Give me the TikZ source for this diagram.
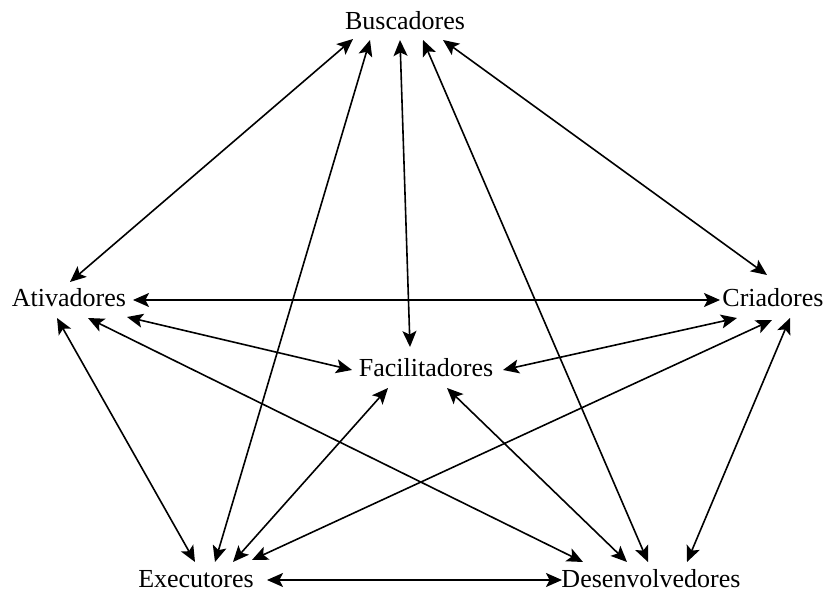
\documentclass[tikz,border=0pt]{standalone}
\usepackage{fontspec}
\setmainfont{Liberation Serif}
\usetikzlibrary{arrows.meta,calc}
\begin{document}
\begin{tikzpicture}[x=0.5pt,y=-0.5pt,
  role/.style={font=\fontsize{13}{15}\selectfont, inner sep=0pt, anchor=base},
  link/.style={<->, >={Stealth[length=8pt,width=7pt,inset=1.8pt]}, line width=0.8pt}]
\useasboundingbox (0,0) rectangle (825,592);

% roles
\node[role] (B) at (405,30)  {Buscadores};
\node[role] (A) at (69,307)  {Ativadores};
\node[role] (C) at (773,307) {Criadores};
\node[role] (F) at (426,377) {Facilitadores};
\node[role] (E) at (196,588) {Executores};
\node[role] (D) at (651,588) {Desenvolvedores};

% relations
\draw[link] ($(B.base)+(-52,9)$)  -- ($(A.base)+(1,-25)$);
\draw[link] ($(B.base)+(-35,10)$) -- ($(E.base)+(19,-26)$);
\draw[link] ($(B.base)+(-5,10)$)  -- ($(F.base)+(-16,-30)$);
\draw[link] ($(B.base)+(18,10)$)  -- ($(D.base)+(-3,-26)$);
\draw[link] ($(B.base)+(38,10)$)  -- ($(C.base)+(-6,-32)$);

\draw[link] ($(A.base)+(64,-7)$)  -- ($(C.base)+(-53,-7)$);
\draw[link] ($(A.base)+(58,10)$)  -- ($(F.base)+(-74,-7)$);
\draw[link] ($(A.base)+(-12,11)$) -- ($(E.base)+(-1,-26)$);
\draw[link] ($(A.base)+(19,11)$)  -- ($(D.base)+(-68,-26)$);

\draw[link] ($(C.base)+(-36,11)$) -- ($(F.base)+(77,-7)$);
\draw[link] ($(C.base)+(-1,13)$)  -- ($(E.base)+(56,-28)$);
\draw[link] ($(C.base)+(17,11)$)  -- ($(D.base)+(36,-26)$);

\draw[link] ($(F.base)+(-38,11)$) -- ($(E.base)+(37,-26)$);
\draw[link] ($(F.base)+(21,11)$)  -- ($(D.base)+(-24,-26)$);

\draw[link] ($(E.base)+(71,-8)$)  -- ($(D.base)+(-89,-8)$);
\end{tikzpicture}
\end{document}
